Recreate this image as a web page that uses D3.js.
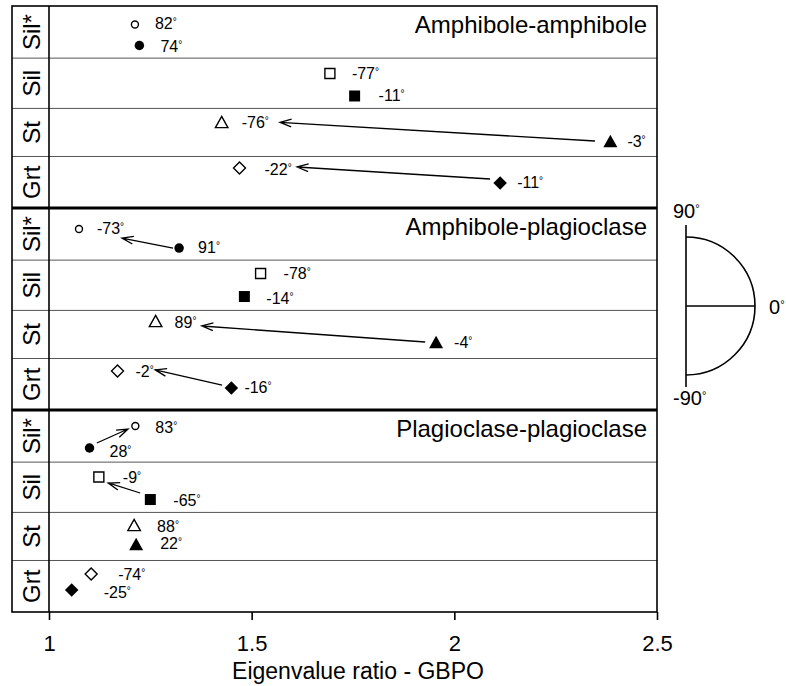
<!DOCTYPE html>
<html>
<head>
<meta charset="utf-8">
<script src="https://cdn.jsdelivr.net/npm/d3@7/dist/d3.min.js"></script>
<style>
  html, body { margin: 0; padding: 0; background: #fff; }
  svg { display: block; font-family: "Liberation Sans", Arial, Helvetica, sans-serif; }
</style>
</head>
<body>
<svg id="chart" width="786" height="686"></svg>
<script>
// ---- data ----
const panelNames = ["Amphibole-amphibole", "Amphibole-plagioclase", "Plagioclase-plagioclase"];
const minerals = ["Sil*", "Sil", "St", "Grt"];
// eigenvalue ratio (GBPO) per panel x mineral
const openRatio = [
  [1.212, 1.693, 1.426, 1.470],
  [1.074, 1.522, 1.263, 1.169],
  [1.213, 1.123, 1.210, 1.104]
];
const filledRatio = [
  [1.223, 1.754, 2.385, 2.113],
  [1.321, 1.482, 1.955, 1.450],
  [1.100, 1.250, 1.215, 1.056]
];
// orientation angle (degrees) per panel x mineral
const openAngle = [
  [82, -77, -76, -22],
  [-73, -78, 89, -2],
  [83, -9, 88, -74]
];
const filledAngle = [
  [74, -11, -3, -11],
  [91, -14, -4, -16],
  [28, -65, 22, -25]
];
// arrows from the filled to the open symbol (eigenvalue ratio at each end)
const arrows = [
  { panel: 0, row: 2, from: 2.347, to: 1.570 },
  { panel: 0, row: 3, from: 2.088, to: 1.612 },
  { panel: 1, row: 0, from: 1.306, to: 1.180 },
  { panel: 1, row: 2, from: 1.928, to: 1.377 },
  { panel: 1, row: 3, from: 1.427, to: 1.262 },
  { panel: 2, row: 0, from: 1.118, to: 1.195 },
  { panel: 2, row: 1, from: 1.225, to: 1.146 }
];
const xTicks = [1, 1.5, 2, 2.5];
const legendAngles = [90, 0, -90];

// ---- layout (vertical placement within rows, label offsets) ----
const rowEdges = [0, 0.258, 0.507, 0.745, 1];
const openOffset = [
  [0.355, 0.306, 0.283, 0.223],
  [0.403, 0.266, 0.220, 0.243],
  [0.307, 0.296, 0.262, 0.262]
];
const filledOffset = [
  [0.758, 0.753, 0.678, 0.515],
  [0.768, 0.724, 0.657, 0.573],
  [0.729, 0.744, 0.657, 0.573]
];
const arrowOffset = [
  [0.678, 0.290], [0.437, 0.204], [0.768, 0.576], [0.657, 0.324],
  [0.515, 0.220], [0.633, 0.365], [0.614, 0.415]
];
const openLabelDx = [[20, 22, 20, 25], [18, 23, 19, 18], [20, 24, 23, 27]];
const openLabelDy = [[4, 5, 6, 7], [5, 6, 7, 6], [7, 6, 7, 6]];
const filledLabelDx = [[21, 24, 17, 17], [19, 22, 18, 13], [20, 23, 24, 32]];
const filledLabelDy = [[6, 5, 6, 5], [5, 7, 6, 5], [9, 6, 5, 8]];

const svg = d3.select("#chart");
const frame = { left: 12, col: 49, right: 657, top: 6, bottom: 612 };

const x = d3.scaleLinear().domain([1, 2.5]).range([frame.col, frame.right]);
const panelY = d3.scaleLinear().domain([0, 3]).range([frame.top, frame.bottom]);
const rowTop = (p, r) => panelY(p + rowEdges[r]);
const rowH = (p, r) => panelY(p + rowEdges[r + 1]) - panelY(p + rowEdges[r]);
const yAt = (p, r, off) => rowTop(p, r) + off * rowH(p, r);

// ---- grid: thin row separators ----
const gridG = svg.append("g");
panelNames.forEach((_, p) => {
  [1, 2, 3].forEach(r => {
    const y = rowTop(p, r);
    gridG.append("line")
      .attr("x1", frame.left).attr("x2", frame.right).attr("y1", y).attr("y2", y)
      .attr("stroke", "#555").attr("stroke-width", 1);
  });
});
// thick panel separators
[1, 2].forEach(p => {
  gridG.append("line")
    .attr("x1", frame.left).attr("x2", frame.right)
    .attr("y1", panelY(p)).attr("y2", panelY(p))
    .attr("stroke", "#000").attr("stroke-width", 3);
});
// outer frame and label column
gridG.append("rect")
  .attr("x", frame.left).attr("y", frame.top)
  .attr("width", frame.right - frame.left).attr("height", frame.bottom - frame.top)
  .attr("fill", "none").attr("stroke", "#000").attr("stroke-width", 1.6);
gridG.append("line")
  .attr("x1", frame.col).attr("x2", frame.col).attr("y1", frame.top).attr("y2", frame.bottom)
  .attr("stroke", "#000").attr("stroke-width", 1.6);

// ---- row labels and panel titles ----
panelNames.forEach((_, p) => {
  minerals.forEach((m, r) => {
    const cy = rowTop(p, r) + rowH(p, r) / 2;
    svg.append("text")
      .attr("transform", `translate(${(frame.left + frame.col) / 2 + 1},${cy}) rotate(-90)`)
      .attr("text-anchor", "middle")
      .attr("dominant-baseline", "central")
      .attr("font-size", 24)
      .text(m);
  });
  svg.append("text")
    .attr("x", 647).attr("y", panelY(p) + 27)
    .attr("text-anchor", "end")
    .attr("font-size", 24)
    .text(panelNames[p]);
});

// ---- x axis ----
const axisG = svg.append("g")
  .attr("transform", `translate(0,${frame.bottom})`)
  .call(d3.axisBottom(x).tickValues(xTicks).tickSize(8).tickFormat(d3.format("")));
axisG.select(".domain").remove();
axisG.selectAll(".tick line").attr("stroke", "#000").attr("stroke-width", 1.6);
axisG.selectAll(".tick text")
  .attr("y", 39).attr("dy", 0)
  .attr("fill", "#000")
  .attr("font-size", 22)
  .attr("font-family", "Liberation Sans, Arial, sans-serif");

svg.append("text")
  .attr("x", 358).attr("y", 679)
  .attr("text-anchor", "middle")
  .attr("font-size", 23)
  .text("Eigenvalue ratio - GBPO");

// ---- symbols ----
function shapePath(kind, s) {
  const h = s / 2;
  switch (kind) {
    case "circle":
      return `M${h},0A${h},${h} 0 1,1 ${-h},0A${h},${h} 0 1,1 ${h},0Z`;
    case "square":
      return `M${-h},${-h}H${h}V${h}H${-h}Z`;
    case "triangle": {
      const th = s * 0.9;
      return `M0,${-th / 2}L${h},${th / 2}L${-h},${th / 2}Z`;
    }
    case "diamond":
      return `M0,${-h}L${h},0L0,${h}L${-h},0Z`;
  }
}
const shapeKinds = ["circle", "square", "triangle", "diamond"];
const openSize = { circle: 7, square: 10, triangle: 12.5, diamond: 12 };
const filledSize = { circle: 9.5, square: 11, triangle: 14, diamond: 13.5 };

function degreeLabel(g, xPos, yPos, value) {
  const t = g.append("text")
    .attr("x", xPos).attr("y", yPos)
    .attr("font-size", 16);
  t.append("tspan").text(value);
  t.append("tspan").attr("font-size", 10).attr("dy", -4).text("°");
}

const pts = [];
panelNames.forEach((_, p) => {
  minerals.forEach((m, r) => {
    pts.push({ p, r, kind: shapeKinds[r], filled: false,
      v: openRatio[p][r], a: openAngle[p][r], off: openOffset[p][r],
      dx: openLabelDx[p][r], dy: openLabelDy[p][r] });
    pts.push({ p, r, kind: shapeKinds[r], filled: true,
      v: filledRatio[p][r], a: filledAngle[p][r], off: filledOffset[p][r],
      dx: filledLabelDx[p][r], dy: filledLabelDy[p][r] });
  });
});

// ---- arrows ----
const arrowG = svg.append("g");
arrows.forEach((a, i) => {
  const x0 = x(a.from), y0 = yAt(a.panel, a.row, arrowOffset[i][0]);
  const x1 = x(a.to), y1 = yAt(a.panel, a.row, arrowOffset[i][1]);
  const ang = Math.atan2(y1 - y0, x1 - x0);
  const len = 12, spread = 0.33;
  const hx1 = x1 - len * Math.cos(ang - spread), hy1 = y1 - len * Math.sin(ang - spread);
  const hx2 = x1 - len * Math.cos(ang + spread), hy2 = y1 - len * Math.sin(ang + spread);
  arrowG.append("path")
    .attr("d", `M${x0},${y0}L${x1},${y1}M${hx1},${hy1}L${x1},${y1}L${hx2},${hy2}`)
    .attr("fill", "none").attr("stroke", "#000").attr("stroke-width", 1.3)
    .attr("stroke-linejoin", "miter");
});

const markG = svg.append("g");
pts.forEach(d => {
  const cx = x(d.v), cy = yAt(d.p, d.r, d.off);
  const size = d.filled ? filledSize[d.kind] : openSize[d.kind];
  markG.append("path")
    .attr("transform", `translate(${cx},${cy})`)
    .attr("d", shapePath(d.kind, size))
    .attr("fill", d.filled ? "#000" : "#fff")
    .attr("stroke", "#000")
    .attr("stroke-width", d.filled ? 0 : 1.4);
  degreeLabel(markG, cx + d.dx, cy + d.dy, d.a);
});

// ---- orientation key (semicircle) ----
const key = { cx: 686, cy: 306, r: 69 };
const keyG = svg.append("g");
keyG.append("line")
  .attr("x1", key.cx).attr("x2", key.cx)
  .attr("y1", key.cy - key.r - 12).attr("y2", key.cy + key.r + 12)
  .attr("stroke", "#000").attr("stroke-width", 1.6);
keyG.append("path")
  .attr("d", d3.arc()({ innerRadius: key.r, outerRadius: key.r, startAngle: 0, endAngle: Math.PI }))
  .attr("transform", `translate(${key.cx},${key.cy})`)
  .attr("fill", "none").attr("stroke", "#000").attr("stroke-width", 1.6);
keyG.append("line")
  .attr("x1", key.cx).attr("x2", key.cx + key.r)
  .attr("y1", key.cy).attr("y2", key.cy)
  .attr("stroke", "#000").attr("stroke-width", 1.3);
legendAngles.forEach(a => {
  const rad = a * Math.PI / 180;
  let lx, ly;
  if (a === 0) { lx = key.cx + key.r + 14; ly = key.cy + 8; }
  else { lx = key.cx - 13; ly = key.cy - Math.sin(rad) * (key.r + (a > 0 ? 19 : 30)); }
  const t = keyG.append("text").attr("x", lx).attr("y", ly).attr("font-size", 20);
  t.append("tspan").text(a);
  t.append("tspan").attr("font-size", 11).attr("dy", -6).text("°");
});
</script>
</body>
</html>
